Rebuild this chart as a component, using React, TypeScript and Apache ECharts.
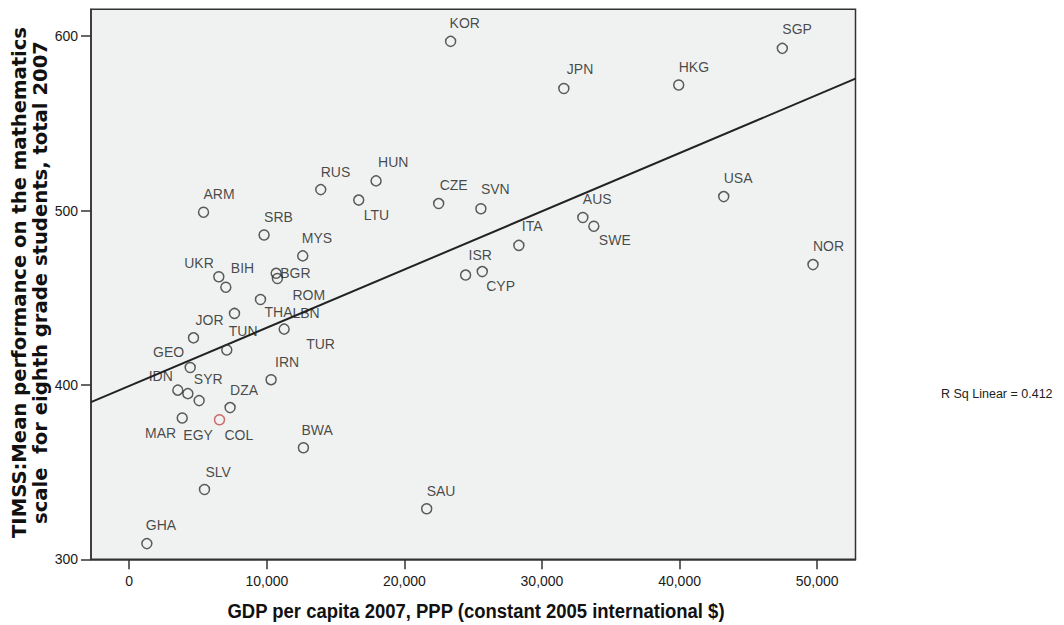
import React, { useEffect, useRef } from "react";
import * as echarts from "echarts";

// Country codes, GDP per capita 2007 (PPP, constant 2005 intl $) and TIMSS 2007 grade-8 maths score
const countries = [
  "KOR", "SGP", "HKG", "JPN", "HUN", "RUS", "USA", "LTU", "CZE", "SVN",
  "ARM", "AUS", "SWE", "SRB", "ITA", "MYS", "NOR", "CYP", "BGR", "ISR",
  "UKR", "ROM", "BIH", "LBN", "THA", "TUR", "JOR", "TUN", "GEO", "IRN",
  "IDN", "SYR", "EGY", "DZA", "MAR", "COL", "BWA", "SLV", "SAU", "GHA",
];
const gdpPerCapita = [
  23360, 47470, 39940, 31590, 17940, 13920, 43210, 16680, 22490, 25560,
  5400, 32970, 33770, 9800, 28320, 12610, 49700, 25660, 10680, 24450,
  6510, 10770, 7020, 9540, 7650, 11260, 4670, 7090, 4430, 10310,
  3530, 4260, 5080, 7330, 3850, 6560, 12660, 5470, 21620, 1280,
];
const mathScore = [
  597, 593, 572, 570, 517, 512, 508, 506, 504, 501,
  499, 496, 491, 486, 480, 474, 469, 465, 464, 463,
  462, 461, 456, 449, 441, 432, 427, 420, 410, 403,
  397, 395, 391, 387, 381, 380, 364, 340, 329, 309,
];

const xTicks = [0, 10000, 20000, 30000, 40000, 50000];
const yTicks = [300, 400, 500, 600];
const xRange = [-2780, 52790];
const yRange = [300, 615.4];
const rSquaredText = "R Sq Linear = 0.412";
const highlighted = "COL";

// Label placement per country: [align, dx, dy] relative to the marker centre
const labelPlacement: Record<string, [string, number, number]> = {
  KOR: ["left", -1, -18], SGP: ["left", 0, -19], HKG: ["left", 0, -18],
  JPN: ["left", 3, -19], HUN: ["left", 2, -19], RUS: ["left", 0, -18],
  USA: ["left", 0, -19], LTU: ["left", 5, 15], CZE: ["left", 1, -19],
  SVN: ["left", 0, -20], ARM: ["left", 0, -18], AUS: ["left", 0, -19],
  SWE: ["left", 5, 14], SRB: ["left", 0, -18], ITA: ["left", 3, -19],
  MYS: ["left", -1, -18], NOR: ["left", 0, -19], CYP: ["left", 4, 14],
  BGR: ["left", 4, 0], ISR: ["left", 3, -20], UKR: ["right", -5, -14],
  ROM: ["left", 15, 16], BIH: ["left", 5, -19], LBN: ["left", 32, 14],
  THA: ["left", 30, -1], TUR: ["left", 22, 15], JOR: ["left", 2, -18],
  TUN: ["left", 2, -19], GEO: ["right", -6, -15], IRN: ["left", 4, -18],
  IDN: ["right", -5, -14], SYR: ["left", 6, -15], EGY: ["center", -1, 34],
  DZA: ["left", 0, -18], MAR: ["right", -6, 15], COL: ["left", 5, 15],
  BWA: ["left", -2, -18], SLV: ["left", 1, -18], SAU: ["left", 0, -18],
  GHA: ["left", -1, -19],
};

// Ordinary least-squares fit of score on GDP
function linearFit(xs: number[], ys: number[]) {
  const n = xs.length;
  const mx = xs.reduce((a, b) => a + b, 0) / n;
  const my = ys.reduce((a, b) => a + b, 0) / n;
  let sxy = 0;
  let sxx = 0;
  for (let i = 0; i < n; i++) {
    sxy += (xs[i] - mx) * (ys[i] - my);
    sxx += (xs[i] - mx) * (xs[i] - mx);
  }
  const slope = sxy / sxx;
  return { slope, intercept: my - slope * mx };
}

const sans = "'Liberation Sans', Arial, sans-serif";

export default function App() {
  const ref = useRef<HTMLDivElement>(null);

  useEffect(() => {
    if (!ref.current) return;
    const chart = echarts.init(ref.current, undefined, { renderer: "svg" });
    const fit = linearFit(gdpPerCapita, mathScore);
    const fitLine = xRange.map((x) => [x, fit.intercept + fit.slope * x]);

    const points = countries.map((code, i) => {
      const [align, dx, dy] = labelPlacement[code];
      return {
        name: code,
        value: [gdpPerCapita[i], mathScore[i]],
        itemStyle: code === highlighted ? { borderColor: "#c0484a" } : undefined,
        label: { align, offset: [dx, dy] },
      };
    });

    chart.setOption({
      animation: false,
      grid: {
        left: 91,
        right: 208.5,
        top: 9.3,
        bottom: 65.7,
        show: true,
        backgroundColor: "#f0f2f1",
        borderColor: "#333",
        borderWidth: 1.5,
      },
      xAxis: {
        type: "value",
        min: xRange[0],
        max: xRange[1],
        splitLine: { show: false },
        axisLine: { show: true, onZero: false, lineStyle: { color: "#333", width: 1.5 } },
        axisTick: { show: true, length: 10, customValues: xTicks, lineStyle: { color: "#333", width: 1.5 } },
        axisLabel: {
          customValues: xTicks,
          margin: 15,
          color: "#1a1a1a",
          fontFamily: sans,
          fontSize: 14,
          formatter: (v: number) => v.toLocaleString("en-US"),
        },
      },
      yAxis: {
        type: "value",
        min: yRange[0],
        max: yRange[1],
        splitLine: { show: false },
        axisLine: { show: true, onZero: false, lineStyle: { color: "#333", width: 1.5 } },
        axisTick: { show: true, length: 10, customValues: yTicks, lineStyle: { color: "#333", width: 1.5 } },
        axisLabel: {
          customValues: yTicks,
          margin: 13,
          color: "#1a1a1a",
          fontFamily: sans,
          fontSize: 14,
        },
      },
      series: [
        {
          type: "line",
          data: fitLine,
          symbol: "none",
          silent: true,
          lineStyle: { color: "#222", width: 2 },
          z: 1,
        },
        {
          type: "scatter",
          data: points,
          symbol: "circle",
          symbolSize: 10,
          itemStyle: { color: "rgba(0,0,0,0)", borderColor: "#333", borderWidth: 1.5 },
          label: {
            show: true,
            position: "inside",
            verticalAlign: "middle",
            formatter: "{b}",
            color: "#1a1a1a",
            fontFamily: sans,
            fontSize: 14,
          },
          z: 2,
        },
      ],
      graphic: [
        {
          type: "text",
          x: 29.5,
          y: 282.5,
          rotation: Math.PI / 2,
          scaleX: 0.98,
          style: {
            text: "TIMSS:Mean performance on the mathematics\nscale  for eighth grade students, total 2007",
            align: "center",
            verticalAlign: "middle",
            fontFamily: "'DejaVu Sans', sans-serif",
            fontWeight: "bold",
            fontSize: 20,
            lineHeight: 21,
            fill: "#111",
          },
        },
        {
          type: "text",
          x: 476,
          y: 611,
          scaleX: 0.88,
          style: {
            text: "GDP per capita 2007, PPP (constant 2005 international $)",
            align: "center",
            verticalAlign: "middle",
            fontFamily: sans,
            fontWeight: "bold",
            fontSize: 21,
            fill: "#111",
          },
        },
        {
          type: "text",
          x: 941,
          y: 394,
          style: {
            text: rSquaredText,
            align: "left",
            verticalAlign: "middle",
            fontFamily: sans,
            fontSize: 12.5,
            fill: "#222",
          },
        },
      ],
    });

    return () => chart.dispose();
  }, []);

  return (
    <div
      ref={ref}
      style={{ position: "fixed", left: 0, top: 0, width: 1064, height: 625, background: "#fff" }}
    />
  );
}
